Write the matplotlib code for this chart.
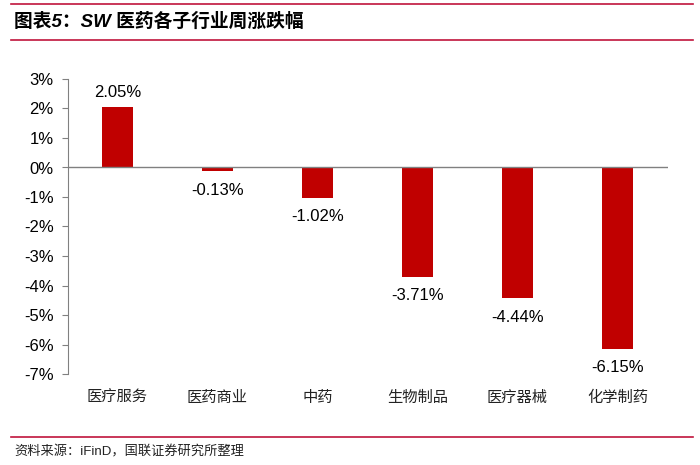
import matplotlib
matplotlib.use("Agg")
from matplotlib import pyplot as plt
from matplotlib.lines import Line2D

plt.rcParams['font.family'] = ['Liberation Sans', 'Noto Sans CJK SC', 'DejaVu Sans']

categories = ['医疗服务', '医药商业', '中药', '生物制品', '医疗器械', '化学制药']
values = [2.05, -0.13, -1.02, -3.71, -4.44, -6.15]
yticks = [3, 2, 1, 0, -1, -2, -3, -4, -5, -6, -7]

fig = plt.figure(figsize=(7, 4.65), dpi=100)
ax = fig.add_axes([67.5 / 700, 1 - 374 / 465, 600 / 700, (374 - 79) / 465])

x = list(range(len(categories)))
ax.bar(x, values, width=0.31, color='#C00000', zorder=2)
ax.axhline(0, color='#808080', lw=1, zorder=3)

# value labels above / below bars
for xi, v in zip(x, values):
    if v >= 0:
        ax.text(xi, v + 0.25, f'{v:.2f}%', ha='center', va='bottom', fontsize=12)
    else:
        ax.text(xi, v - 0.38, f'{v:.2f}%', ha='center', va='top', fontsize=12)

ax.set_xlim(-0.5, len(categories) - 0.5)
ax.set_ylim(-7, 3)
ax.set_yticks(yticks)
ax.set_yticklabels([f'{t}%' for t in yticks], fontsize=12)
ax.set_xticks([])
for s in ['top', 'right', 'bottom']:
    ax.spines[s].set_visible(False)
ax.spines['left'].set_color('#808080')
ax.tick_params(axis='y', color='#808080', length=4, pad=6)

# category names below the plot
for xi, c in zip(x, categories):
    ax.text(xi, -7.8, c, ha='center', va='center', fontsize=11,
            family=['Noto Sans CJK SC'], color='#222222')

# title and source
for yy in [4, 40, 437]:
    fig.add_artist(Line2D([0.015, 0.99], [1 - yy / 465, 1 - yy / 465], color='#C0143C', lw=1.2))
fig.text(14 / 700, 1 - 22 / 465, '图表5：SW 医药各子行业周涨跌幅', fontsize=13.5, fontweight='bold',
         style='italic', va='center', ha='left', family=['Liberation Sans', 'Noto Sans CJK SC'])
fig.text(14 / 700, 1 - 452 / 465, '资料来源：iFinD，国联证券研究所整理', fontsize=9.5,
         va='center', ha='left', family=['Liberation Sans', 'Noto Sans CJK SC'], color='#222222')

fig.savefig('out.png', dpi=100)
